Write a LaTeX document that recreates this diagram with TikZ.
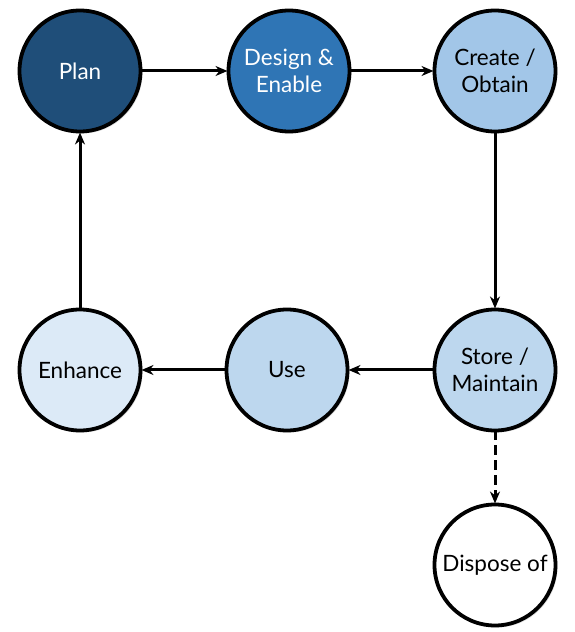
\documentclass[tikz,border=0pt]{standalone}
\usepackage{fontspec}
\setmainfont{Lato}
\usetikzlibrary{arrows.meta,shadows}
\definecolor{cPlan}{HTML}{1F4E79}
\definecolor{cDesign}{HTML}{2F75B5}
\definecolor{cCreate}{HTML}{A2C6E8}
\definecolor{cStore}{HTML}{BDD7EE}
\definecolor{cEnh}{HTML}{DCEAF7}
\tikzset{
  stage/.style={circle, draw=black, line width=3.8pt, minimum size=121pt, inner sep=0pt,
    align=center, font=\fontsize{22.5}{27}\selectfont, outer sep=0pt,
    drop shadow={opacity=0.25, shadow xshift=2pt, shadow yshift=-2pt}},
  flow/.style={-{Stealth[length=12pt,width=10pt]}, line width=3pt, shorten >=1pt},
  dflow/.style={flow, dash pattern=on 10pt off 5pt}
}
\begin{document}
\begin{tikzpicture}[x=1pt,y=1pt]
\useasboundingbox (0,0) rectangle (574,632);
\node[stage, fill=cPlan, text=white] (plan) at (80,561) {Plan};
\node[stage, fill=cDesign, text=white] (design) at (289,561) {Design \&\\Enable};
\node[stage, fill=cCreate] (create) at (495,561) {Create /\\Obtain};
\node[stage, fill=cStore] (store) at (495,262) {Store /\\Maintain};
\node[stage, fill=cStore] (use) at (287,262) {Use};
\node[stage, fill=cEnh] (enh) at (80,262) {Enhance};
\node[stage, fill=white] (disp) at (495,67) {Dispose of};
\draw[flow] (plan.east) -- (design.west);
\draw[flow] (design.east) -- (create.west);
\draw[flow] (create.south) -- (store.north);
\draw[flow] (store.west) -- (use.east);
\draw[flow] (use.west) -- (enh.east);
\draw[flow] (enh.north) -- (plan.south);
\draw[dflow] (store.south) -- (disp.north);
\end{tikzpicture}
\end{document}
